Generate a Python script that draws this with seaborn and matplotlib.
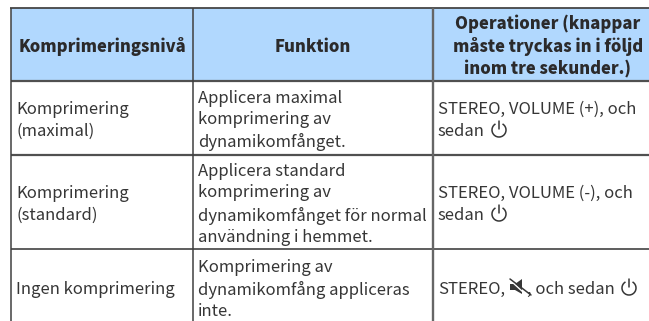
import matplotlib
matplotlib.use("Agg")
import matplotlib.pyplot as plt
from matplotlib.colors import ListedColormap
from matplotlib.patches import Arc, Polygon
import seaborn as sns

sns.set_theme(style="white")
plt.rcParams['font.family'] = ['Noto Sans CJK JP', 'DejaVu Sans']

# table content
headers = ["Komprimeringsnivå", "Funktion",
           "Operationer (knappar\nmåste tryckas in i följd\ninom tre sekunder.)"]
levels = ["Komprimering\n(maximal)", "Komprimering\n(standard)", "Ingen komprimering"]
functions = ["Applicera maximal\nkomprimering av\ndynamikomfånget.",
             "Applicera standard\nkomprimering av\ndynamikomfånget för normal\nanvändning i hemmet.",
             "Komprimering av\ndynamikomfång appliceras\ninte."]
operations = ["STEREO, VOLUME (+), och\nsedan", "STEREO, VOLUME (-), och\nsedan", "STEREO,"]

# layout in pixels
W, H = 649, 321
col_edges = [11, 193, 433, 660]
row_edges = [8, 81, 155, 249, 330]
header_x = [102, 313, 548]
row_y = [120.5, 204.5, 289.5]

dark = "#2b2a2b"
body = "#363636"

fig = plt.figure(figsize=(W / 100, H / 100), dpi=100, facecolor="white")

# cell fills drawn as one heatmap per cell, so the columns can differ in width
grid = fig.add_gridspec(4, 3,
                        left=col_edges[0] / W, right=col_edges[-1] / W,
                        top=1 - row_edges[0] / H, bottom=1 - row_edges[-1] / H,
                        wspace=0, hspace=0,
                        width_ratios=[b - a for a, b in zip(col_edges, col_edges[1:])],
                        height_ratios=[b - a for a, b in zip(row_edges, row_edges[1:])])
cmap = ListedColormap(["white", "#b1d8fe"])
for r in range(4):
    for c in range(3):
        cell_ax = fig.add_subplot(grid[r, c])
        sns.heatmap([[1 if r == 0 else 0]], vmin=0, vmax=1, cmap=cmap, cbar=False,
                    xticklabels=False, yticklabels=False, ax=cell_ax)

# overlay in pixel coordinates for rules and text
ax = fig.add_axes([0, 0, 1, 1], facecolor="none")
ax.set_xlim(0, W)
ax.set_ylim(H, 0)
ax.axis("off")

ax.hlines(row_edges[0], col_edges[0] - 0.7, W, color="#454545", lw=1.3)
ax.hlines(row_edges[1:3], col_edges[0], W, color="#505050", lw=1.6)
ax.hlines(row_edges[3], col_edges[0], W, color="#505050", lw=1.3)
ax.vlines(col_edges[:2], row_edges[0], H, color="#404040", lw=1.1)
ax.vlines(col_edges[2], row_edges[0], H, color="#666666", lw=1.7)

fs = 12
lh = 1.36
for x, t in zip(header_x, headers):
    ax.text(x, 46.5, t, ha="center", va="center", fontsize=11.9, fontweight=900,
            color=dark, linespacing=1.3)

for i in range(3):
    ax.text(16, row_y[i], levels[i], va="center", fontsize=fs, color=body, linespacing=lh)
    ax.text(198, row_y[i], functions[i], va="center", fontsize=fs, color=body, linespacing=lh)
    ax.text(438, row_y[i], operations[i], va="center", fontsize=fs, color=body, linespacing=lh)
ax.text(527, row_y[2], ", och sedan", va="center", fontsize=fs, color=body)


def power_icon(x, y):
    ax.add_patch(Arc((x, y), 14, 14, theta1=-60, theta2=240, color=body, lw=1.1))
    ax.plot([x, x], [y - 9, y - 1], color=body, lw=1.1)


def mute_icon(x, y):
    ax.add_patch(Polygon([(x - 8, y - 3), (x - 3, y - 3), (x + 4, y - 8), (x + 4, y + 7),
                          (x - 3, y + 3), (x - 8, y + 3)], color=body, lw=0))
    ax.plot([x - 7, x + 6], [y - 6, y + 6], color="white", lw=1.0)
    ax.plot([x - 8, x + 13], [y - 8, y + 8], color=body, lw=1.1)


power_icon(499, 130)
power_icon(499, 214)
power_icon(629, 288)
mute_icon(518, 287)

fig.savefig("out.png", dpi=100)
